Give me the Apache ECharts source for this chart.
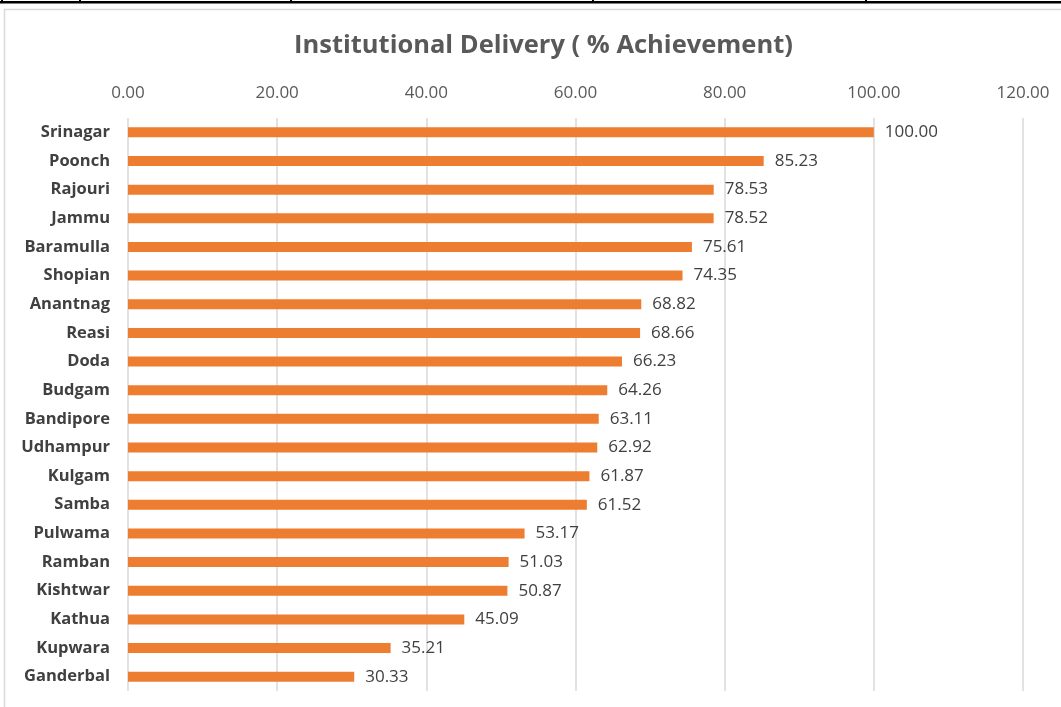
<!DOCTYPE html>
<html lang="en">
<head>
    <meta charset="UTF-8">
    <title>Institutional Delivery</title>
    <style>
        html, body { margin: 0; padding: 0; background: #fff; }
    </style>
</head>
<body>
<div id="main" style="width: 1061px;height:707px;"></div>
<script src="https://cdn.jsdelivr.net/npm/echarts@6/dist/echarts.min.js"></script>

<script>
    // districts, top to bottom
    var districts = ['Srinagar', 'Poonch', 'Rajouri', 'Jammu', 'Baramulla', 'Shopian', 'Anantnag', 'Reasi',
        'Doda', 'Budgam', 'Bandipore', 'Udhampur', 'Kulgam', 'Samba', 'Pulwama', 'Ramban', 'Kishtwar',
        'Kathua', 'Kupwara', 'Ganderbal'];
    var achievement = [100.00, 85.23, 78.53, 78.52, 75.61, 74.35, 68.82, 68.66, 66.23, 64.26, 63.11, 62.92,
        61.87, 61.52, 53.17, 51.03, 50.87, 45.09, 35.21, 30.33];
    var xTicks = [0, 20, 40, 60, 80, 100, 120];
</script>
<script>
    var myChart = echarts.init(document.getElementById('main'));
    var font = '"Open Sans", Lato, sans-serif';

    var option = {
        animation: false,
        backgroundColor: '#fff',
        title: {
            text: 'Institutional Delivery ( % Achievement)',
            left: 289,
            top: 28,
            textStyle: {color: '#595959', fontSize: 25.5, fontWeight: 'bold', fontFamily: font}
        },
        // chart frame and the bit of table above it
        graphic: [
            {type: 'rect', shape: {x: 4.5, y: 9.5, width: 1070, height: 720},
                style: {fill: 'none', stroke: '#d9d9d9', lineWidth: 1.5}},
            {type: 'rect', shape: {x: 0, y: 1, width: 1061, height: 2.5}, style: {fill: '#000'}},
            {type: 'rect', shape: {x: 1, y: 0, width: 2, height: 3}, style: {fill: '#000'}},
            {type: 'rect', shape: {x: 79, y: 0, width: 2, height: 3}, style: {fill: '#000'}},
            {type: 'rect', shape: {x: 290, y: 0, width: 2, height: 3}, style: {fill: '#000'}},
            {type: 'rect', shape: {x: 592, y: 0, width: 2, height: 3}, style: {fill: '#000'}},
            {type: 'rect', shape: {x: 865, y: 0, width: 2, height: 3}, style: {fill: '#000'}}
        ],
        grid: {left: 128, right: 38, top: 118, bottom: 16, containLabel: false},
        xAxis: {
            type: 'value',
            position: 'top',
            min: xTicks[0],
            max: xTicks[xTicks.length - 1],
            interval: 20,
            axisLine: {show: false},
            axisTick: {show: false},
            axisLabel: {
                color: '#595959', fontSize: 17, fontFamily: font, margin: 16,
                formatter: function (v) { return v.toFixed(2); }
            },
            splitLine: {lineStyle: {color: '#d9d9d9', width: 1.5}}
        },
        yAxis: {
            type: 'category',
            inverse: true,
            data: districts,
            axisLine: {show: false},
            axisTick: {show: false},
            axisLabel: {color: '#404040', fontSize: 16.5, fontWeight: 'bold', fontFamily: font, margin: 18}
        },
        series: [
            {
                name: '% Achievement',
                type: 'bar',
                barWidth: 10,
                itemStyle: {color: '#ED7D31'},
                label: {
                    show: true,
                    position: 'right',
                    distance: 11,
                    color: '#404040',
                    fontSize: 17,
                    fontFamily: font,
                    formatter: function (p) { return p.value.toFixed(2); }
                },
                data: achievement
            }
        ]
    };
    myChart.setOption(option);
</script>
</body>
</html>
